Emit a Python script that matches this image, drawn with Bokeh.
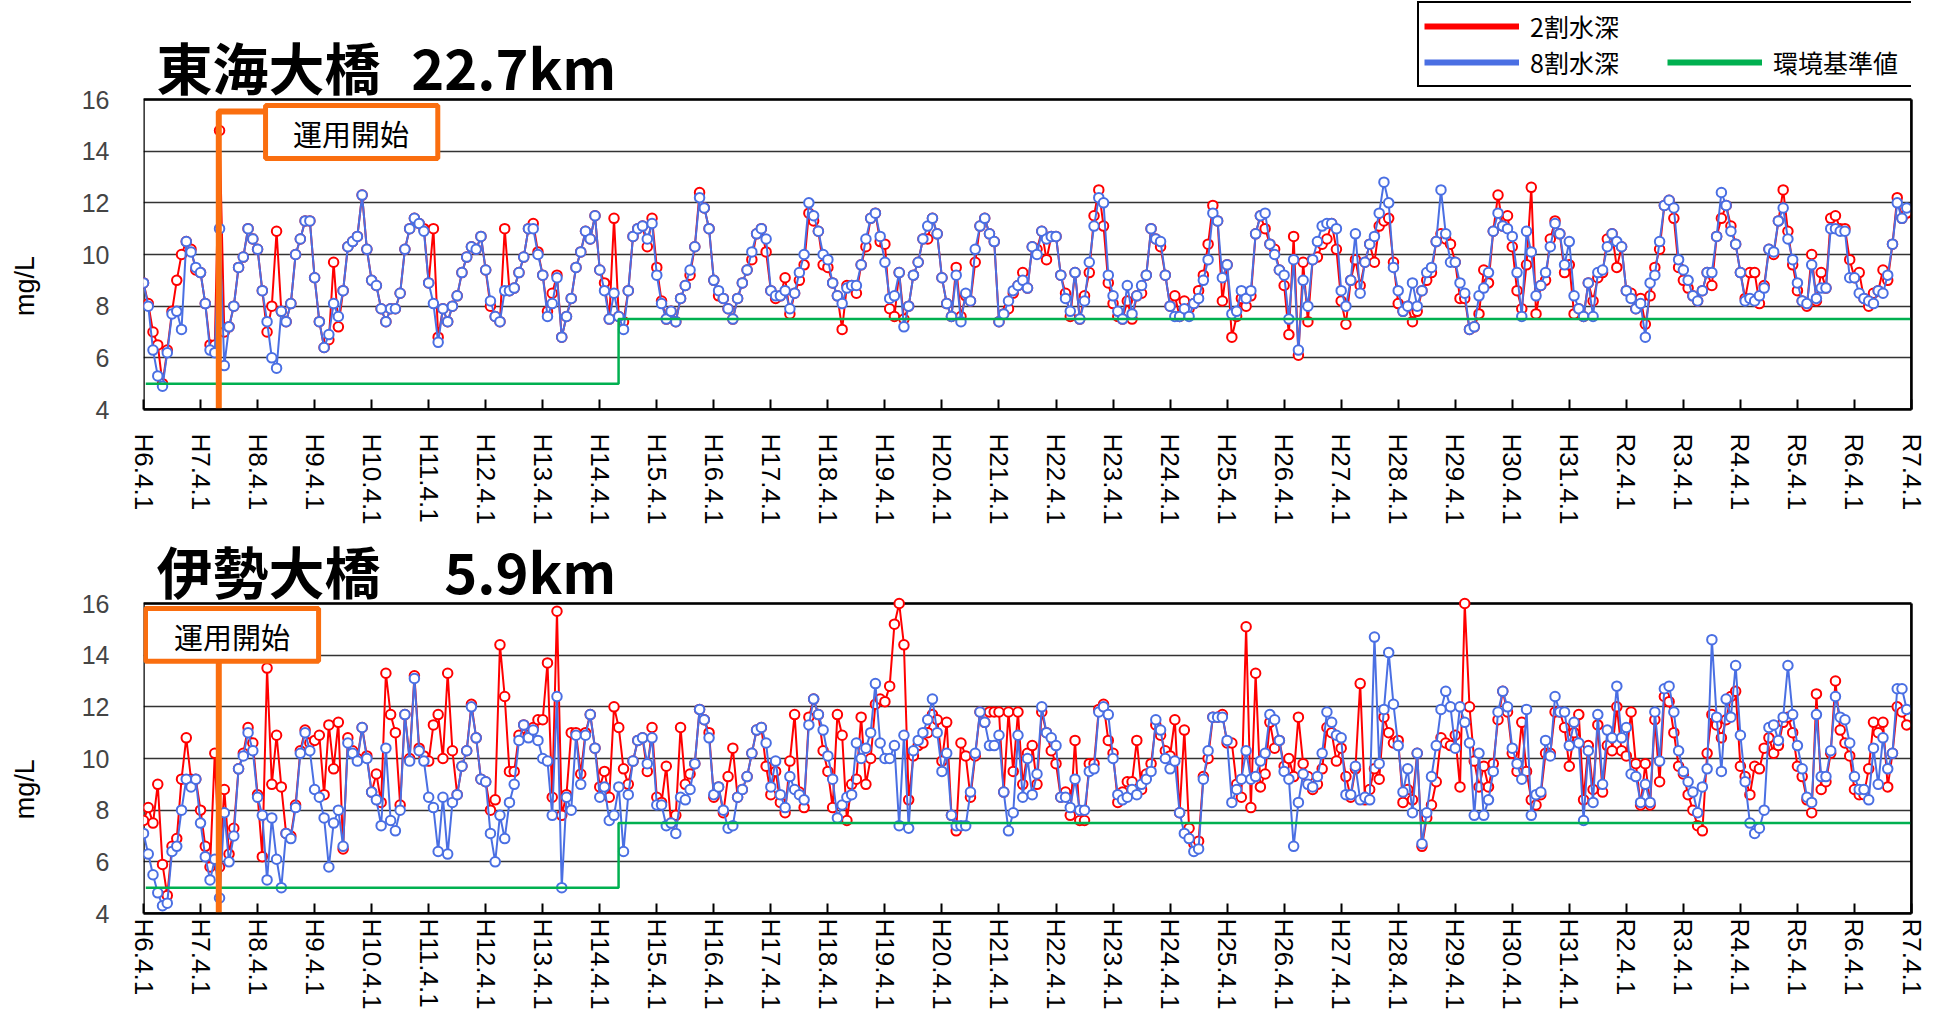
import math
import numpy as np
from bokeh.plotting import figure
from bokeh.models import (Range1d, FixedTicker, Label, Legend, LegendItem,
                          BoxAnnotation, LinearAxis)
from bokeh.layouts import column
from bokeh.embed import file_html
from bokeh.resources import INLINE

# ---------------- data ----------------
TICK_LABELS = ["H6.4.1", "H7.4.1", "H8.4.1", "H9.4.1", "H10.4.1", "H11.4.1",
               "H12.4.1", "H13.4.1", "H14.4.1", "H15.4.1", "H16.4.1", "H17.4.1",
               "H18.4.1", "H19.4.1", "H20.4.1", "H21.4.1", "H22.4.1", "H23.4.1",
               "H24.4.1", "H25.4.1", "H26.4.1", "H27.4.1", "H28.4.1", "H29.4.1",
               "H30.4.1", "H31.4.1", "R2.4.1", "R3.4.1", "R4.4.1", "R5.4.1",
               "R6.4.1", "R7.4.1"]

# monthly DO (mg/L), April..March of each fiscal year H6 .. R6
TOKAI_80 = [
    8.9, 8.0, 6.3, 5.3, 4.9, 6.2, 7.7, 7.8, 7.1, 10.5, 10.1, 9.5,
    9.3, 8.1, 6.3, 6.2, 11.0, 5.7, 7.2, 8.0, 9.5, 9.9, 11.0, 10.6,
    10.2, 8.6, 7.4, 6.0, 5.6, 7.8, 7.4, 8.1, 10.0, 10.6, 11.3, 11.3,
    9.1, 7.4, 6.4, 6.9, 8.1, 7.6, 8.6, 10.3, 10.5, 10.7, 12.3, 10.2,
    9.0, 8.8, 7.9, 7.4, 7.9, 7.9, 8.5, 10.2, 11.0, 11.4, 11.2, 10.9,
    8.9, 8.1, 6.6, 7.9, 7.4, 8.0, 8.4, 9.3, 9.9, 10.3, 10.2, 10.7,
    9.4, 8.2, 7.6, 7.4, 8.6, 8.6, 8.7, 9.3, 9.9, 11.0, 11.0, 10.0,
    9.2, 7.6, 8.1, 9.1, 6.8, 7.6, 8.3, 9.5, 10.1, 10.9, 10.6, 11.5,
    9.4, 8.6, 7.5, 8.5, 7.6, 7.1, 8.6, 10.7, 11.0, 11.1, 10.6, 11.2,
    9.2, 8.1, 7.5, 7.8, 7.4, 8.3, 8.8, 9.4, 10.3, 12.2, 11.8, 11.0,
    9.0, 8.6, 8.3, 7.9, 7.5, 8.3, 8.9, 9.4, 10.1, 10.8, 11.0, 10.6,
    8.6, 8.4, 8.4, 8.6, 7.9, 8.5, 9.3, 10.0, 12.0, 11.5, 10.9, 10.0,
    9.8, 8.9, 8.4, 8.1, 8.7, 8.8, 8.8, 9.6, 10.6, 11.4, 11.6, 10.7,
    9.7, 8.3, 8.4, 9.3, 7.2, 8.0, 9.2, 9.7, 10.6, 11.1, 11.4, 10.8,
    9.1, 8.1, 7.6, 9.2, 7.4, 8.5, 8.2, 10.2, 11.1, 11.4, 10.8, 10.5,
    7.4, 7.7, 8.2, 8.6, 8.8, 9.0, 8.7, 10.3, 10.0, 10.9, 10.6, 10.7,
    10.7, 9.2, 8.3, 7.8, 9.3, 7.5, 8.2, 9.7, 11.1, 12.2, 12.0, 9.2,
    8.4, 7.8, 7.5, 8.8, 7.7, 8.4, 8.8, 9.2, 11.0, 10.6, 10.5, 9.2,
    8.0, 7.6, 7.6, 7.9, 7.6, 8.1, 8.3, 9.0, 9.8, 11.6, 11.3, 9.1,
    9.6, 7.7, 7.8, 8.6, 8.3, 8.6, 10.8, 11.5, 11.6, 10.4, 10.0, 9.4,
    9.2, 7.5, 9.8, 6.3, 9.0, 8.0, 9.8, 10.5, 11.1, 11.2, 11.2, 11.0,
    8.6, 8.0, 9.0, 10.8, 8.5, 9.7, 10.4, 10.7, 11.6, 12.8, 12.0, 9.5,
    8.6, 7.8, 8.0, 8.9, 8.0, 8.6, 9.3, 9.5, 10.5, 12.5, 10.8, 9.7,
    9.7, 8.9, 8.5, 7.1, 7.2, 8.4, 8.7, 9.3, 10.9, 11.6, 11.1, 11.0,
    10.7, 9.3, 7.6, 10.9, 10.1, 8.4, 8.8, 9.3, 10.3, 11.2, 10.8, 9.6,
    10.5, 8.4, 7.9, 7.6, 8.9, 7.6, 9.3, 9.4, 10.3, 10.8, 10.5, 10.3,
    8.6, 8.3, 7.9, 8.1, 6.8, 8.9, 9.2, 10.5, 11.9, 12.1, 11.8, 9.8,
    9.4, 9.0, 8.4, 8.2, 8.6, 9.3, 9.3, 10.7, 12.4, 11.9, 10.9, 10.4,
    9.3, 8.2, 8.3, 8.2, 8.4, 8.7, 10.2, 10.1, 11.3, 11.8, 10.6, 9.8,
    8.9, 8.2, 8.1, 9.6, 8.3, 8.7, 8.7, 11.0, 11.0, 10.9, 10.9, 9.1,
    9.1, 8.5, 8.3, 8.2, 8.1, 8.6, 8.5, 9.2, 10.4, 12.0, 11.4, 11.8,
]

TOKAI_20 = [
    8.9, 8.1, 7.0, 6.5, 5.0, 6.3, 7.8, 9.0, 10.0, 10.5, 10.2, 9.4,
    9.3, 8.1, 6.5, 6.5, 14.8, 7.0, 7.2, 8.0, 9.5, 9.9, 11.0, 10.6,
    10.2, 8.6, 7.0, 8.0, 10.9, 7.8, 7.4, 8.1, 10.0, 10.6, 11.3, 11.3,
    9.1, 7.4, 6.4, 6.7, 9.7, 7.2, 8.6, 10.3, 10.5, 10.7, 12.3, 10.2,
    9.0, 8.8, 7.9, 7.4, 7.9, 7.9, 8.5, 10.2, 11.0, 11.4, 11.2, 11.0,
    8.9, 11.0, 6.8, 7.9, 7.4, 8.0, 8.4, 9.3, 9.9, 10.3, 10.2, 10.7,
    9.4, 8.0, 7.6, 7.4, 11.0, 8.6, 8.7, 9.3, 9.9, 11.0, 11.2, 10.1,
    9.2, 7.8, 8.5, 9.2, 6.8, 7.6, 8.3, 9.5, 10.1, 10.9, 10.6, 11.5,
    9.4, 8.9, 7.5, 11.4, 7.6, 7.4, 8.6, 10.7, 11.0, 11.1, 10.3, 11.4,
    9.5, 8.2, 7.5, 7.8, 7.4, 8.3, 8.8, 9.2, 10.3, 12.4, 11.8, 11.0,
    9.0, 8.4, 8.3, 7.9, 7.5, 8.3, 8.9, 9.4, 9.8, 10.8, 11.0, 10.1,
    8.6, 8.3, 8.4, 9.1, 7.7, 8.5, 9.0, 9.6, 11.6, 11.3, 10.9, 9.6,
    9.5, 8.9, 8.4, 7.1, 8.8, 8.8, 8.5, 9.6, 10.3, 11.4, 11.6, 10.5,
    10.4, 7.9, 7.6, 9.3, 7.5, 8.0, 9.2, 9.7, 10.6, 10.6, 11.4, 10.8,
    9.1, 8.1, 7.6, 9.5, 7.6, 8.4, 8.2, 9.7, 11.1, 11.4, 10.8, 10.5,
    7.4, 7.7, 7.9, 8.5, 8.8, 9.3, 8.7, 10.3, 10.2, 10.9, 9.8, 10.7,
    10.7, 9.2, 8.5, 7.6, 9.3, 7.5, 8.4, 9.3, 11.5, 12.5, 11.1, 8.9,
    8.1, 7.6, 7.5, 8.2, 7.5, 8.4, 8.5, 9.2, 11.0, 10.6, 10.3, 9.2,
    8.0, 8.4, 7.6, 8.2, 7.9, 8.1, 8.6, 9.2, 10.4, 11.9, 11.3, 8.2,
    9.6, 6.8, 7.6, 8.3, 8.0, 8.4, 10.8, 11.5, 11.0, 10.4, 10.2, 9.4,
    8.8, 6.9, 10.7, 6.1, 9.7, 7.4, 9.8, 9.9, 10.4, 10.6, 11.2, 10.2,
    8.2, 7.3, 9.0, 9.8, 8.8, 9.7, 10.4, 9.7, 11.1, 11.3, 11.4, 9.7,
    8.1, 7.8, 8.0, 7.4, 7.8, 8.6, 9.0, 9.3, 10.5, 10.8, 10.6, 10.4,
    9.7, 8.3, 8.3, 7.1, 7.2, 7.7, 9.4, 8.9, 10.9, 12.3, 11.1, 11.5,
    10.3, 8.6, 7.9, 9.6, 12.6, 7.7, 8.8, 9.0, 10.6, 11.3, 10.8, 9.3,
    9.6, 7.7, 7.9, 7.6, 8.9, 8.2, 9.1, 9.3, 10.6, 10.8, 9.5, 10.3,
    8.6, 8.5, 7.9, 8.3, 7.3, 8.4, 9.5, 10.2, 11.9, 12.1, 11.4, 9.5,
    9.0, 8.7, 8.4, 8.2, 8.6, 9.3, 8.8, 10.7, 11.4, 11.9, 11.1, 10.4,
    9.3, 8.3, 9.3, 9.3, 8.1, 8.8, 10.2, 10.0, 11.3, 12.5, 10.9, 9.6,
    8.6, 8.2, 8.0, 10.0, 8.2, 9.3, 8.7, 11.4, 11.5, 11.0, 11.0, 9.8,
    9.1, 9.3, 8.3, 8.0, 8.5, 8.6, 9.4, 9.0, 10.4, 12.2, 11.4, 11.6,
]

ISE_80 = [
    7.1, 6.3, 5.5, 4.8, 4.3, 4.4, 6.4, 6.6, 8.0, 9.2, 8.9, 9.2,
    7.5, 6.2, 5.3, 6.1, 4.6, 7.9, 6.0, 7.0, 9.6, 10.1, 11.0, 10.3,
    8.5, 7.8, 5.3, 7.7, 6.1, 5.0, 7.1, 6.9, 8.1, 10.2, 11.0, 10.3,
    8.8, 8.5, 7.7, 5.8, 7.5, 8.0, 6.6, 10.6, 10.2, 9.9, 11.2, 10.0,
    8.7, 8.4, 7.4, 10.4, 7.6, 7.2, 8.0, 11.7, 9.9, 13.1, 10.3, 9.9,
    8.5, 8.1, 6.4, 8.5, 6.3, 8.3, 8.6, 9.7, 10.3, 12.0, 10.8, 9.2,
    9.1, 7.1, 6.0, 7.8, 6.9, 8.3, 9.0, 10.7, 11.3, 10.8, 11.1, 10.7,
    10.0, 9.9, 7.8, 12.4, 5.0, 8.5, 8.0, 10.9, 9.0, 10.9, 11.7, 10.4,
    8.5, 8.9, 7.6, 7.8, 8.9, 6.4, 8.6, 9.9, 10.7, 10.8, 9.8, 10.8,
    8.2, 8.2, 7.4, 7.5, 7.1, 8.5, 8.4, 8.8, 9.8, 11.9, 11.5, 10.8,
    8.6, 8.9, 8.0, 7.3, 7.4, 8.5, 8.8, 9.3, 10.2, 11.1, 11.2, 10.6,
    8.9, 9.9, 8.6, 8.1, 9.3, 8.8, 8.6, 8.4, 11.3, 12.3, 11.7, 11.1,
    10.1, 9.2, 7.7, 8.2, 8.5, 8.6, 10.6, 10.0, 10.4, 11.0, 12.9, 10.6,
    10.0, 10.0, 10.5, 7.4, 10.9, 7.3, 10.3, 10.7, 11.0, 11.5, 12.3, 11.0,
    9.5, 10.2, 7.8, 7.4, 7.4, 7.4, 8.7, 10.2, 11.8, 11.4, 10.5, 10.5,
    10.9, 8.7, 7.2, 7.9, 10.9, 8.5, 10.0, 8.6, 9.4, 12.0, 11.0, 10.8,
    10.5, 8.5, 8.5, 8.1, 9.2, 8.0, 8.0, 9.5, 9.6, 11.8, 12.0, 11.7,
    10.0, 8.6, 8.4, 8.5, 8.8, 8.6, 9.0, 9.2, 9.5, 11.5, 11.1, 10.0,
    9.6, 9.9, 7.9, 7.1, 6.9, 6.4, 6.5, 9.2, 10.3, 11.6, 11.6, 11.6,
    10.7, 8.3, 8.8, 9.2, 10.3, 9.2, 9.3, 9.9, 10.2, 11.7, 11.5, 10.7,
    9.5, 9.2, 6.6, 8.3, 9.4, 9.0, 8.9, 9.3, 10.2, 11.8, 11.4, 10.9,
    10.8, 8.6, 8.6, 9.7, 8.4, 8.5, 8.4, 14.7, 9.8, 11.9, 14.1, 12.1,
    10.5, 8.7, 9.6, 7.9, 10.2, 6.7, 7.9, 9.3, 10.5, 11.9, 12.6, 12.0,
    10.4, 12.0, 11.4, 10.6, 7.8, 10.2, 7.8, 8.4, 9.5, 11.8, 12.6, 12.0,
    10.4, 9.8, 9.2, 11.9, 7.8, 8.6, 8.7, 10.7, 10.1, 12.4, 11.8, 11.8,
    10.5, 11.4, 10.6, 7.6, 10.3, 8.3, 11.7, 9.0, 11.1, 10.8, 12.8, 10.8,
    11.2, 9.4, 9.3, 8.3, 9.0, 8.3, 11.8, 9.9, 12.7, 12.8, 11.8, 10.3,
    9.5, 9.1, 8.7, 7.9, 8.9, 9.6, 14.6, 11.6, 9.5, 12.3, 11.6, 13.6,
    10.9, 9.1, 7.5, 7.1, 7.3, 8.0, 11.2, 11.3, 10.7, 11.6, 13.6, 11.7,
    10.5, 9.6, 8.5, 8.3, 11.7, 9.3, 9.3, 10.3, 12.4, 11.6, 11.5, 10.6,
    9.3, 8.8, 8.8, 8.4, 10.4, 9.0, 10.8, 9.6, 10.2, 12.7, 12.7, 11.9,
]

ISE_20 = [
    7.6, 8.1, 7.5, 9.0, 5.9, 4.7, 6.6, 6.9, 9.2, 10.8, 9.2, 9.2,
    8.0, 6.6, 5.8, 10.2, 5.8, 8.8, 6.3, 7.3, 9.6, 10.2, 11.2, 10.6,
    8.6, 6.2, 13.5, 9.0, 10.9, 8.9, 7.1, 7.0, 8.2, 10.3, 11.1, 10.6,
    10.7, 10.9, 8.6, 11.3, 9.6, 11.4, 6.5, 10.8, 10.3, 10.0, 11.2, 10.1,
    8.7, 9.4, 8.3, 13.3, 11.7, 11.0, 8.2, 11.7, 10.0, 13.2, 10.4, 10.1,
    9.9, 11.3, 11.7, 10.0, 13.3, 10.3, 8.6, 9.7, 10.3, 12.1, 10.8, 9.2,
    9.1, 8.0, 8.4, 14.4, 12.4, 9.5, 9.5, 10.9, 11.3, 10.9, 11.2, 11.5,
    11.5, 13.7, 8.5, 15.7, 7.8, 8.6, 11.0, 11.0, 9.4, 11.0, 11.7, 10.4,
    8.9, 9.5, 8.5, 12.0, 11.2, 9.6, 9.0, 9.9, 10.7, 10.8, 9.5, 11.2,
    8.5, 8.3, 9.7, 7.5, 7.8, 11.2, 9.0, 9.4, 9.8, 11.9, 11.5, 11.0,
    8.5, 8.9, 7.9, 9.3, 10.4, 8.5, 8.8, 9.3, 10.2, 11.1, 11.2, 9.7,
    8.6, 9.5, 8.3, 7.9, 9.9, 11.7, 8.7, 8.1, 11.6, 12.3, 11.7, 10.3,
    9.5, 8.1, 11.7, 10.9, 7.6, 9.0, 9.2, 11.6, 9.0, 10.0, 12.1, 12.3,
    12.2, 12.8, 15.2, 16.0, 14.4, 8.4, 10.1, 10.5, 10.6, 11.0, 11.7, 11.5,
    9.9, 11.4, 7.8, 7.2, 10.6, 10.1, 8.5, 10.1, 11.8, 11.4, 11.8, 11.8,
    11.8, 8.7, 11.8, 9.5, 11.8, 9.0, 10.2, 10.5, 9.0, 11.8, 11.0, 10.3,
    9.8, 8.5, 8.7, 7.8, 10.7, 7.6, 7.6, 9.8, 9.8, 11.9, 12.1, 10.7,
    10.2, 8.3, 8.7, 9.1, 9.1, 10.7, 8.8, 9.4, 9.8, 11.3, 10.9, 10.3,
    10.1, 11.5, 7.9, 11.1, 7.3, 6.7, 6.8, 9.3, 10.0, 11.6, 11.6, 11.7,
    10.6, 10.6, 9.0, 8.5, 15.1, 8.1, 13.3, 8.9, 9.4, 11.4, 10.4, 10.7,
    9.7, 10.0, 9.3, 11.6, 9.8, 9.3, 8.8, 9.0, 9.6, 11.2, 11.0, 9.9,
    10.4, 9.3, 8.5, 9.6, 12.9, 8.4, 8.8, 9.6, 9.2, 11.6, 11.0, 10.6,
    10.7, 8.3, 8.8, 8.4, 10.2, 6.6, 7.7, 8.2, 9.1, 10.8, 10.6, 10.5,
    10.9, 8.9, 16.0, 12.0, 9.9, 8.9, 9.7, 8.9, 9.8, 11.5, 12.6, 11.8,
    10.2, 9.5, 11.4, 9.5, 8.4, 8.2, 8.6, 10.2, 10.2, 11.8, 11.8, 11.2,
    9.7, 11.0, 11.7, 8.4, 10.5, 8.8, 11.3, 8.7, 10.5, 10.3, 12.0, 10.3,
    10.1, 11.8, 9.8, 8.2, 9.8, 8.2, 11.5, 9.1, 12.4, 12.2, 11.0, 9.7,
    9.4, 8.6, 8.0, 7.4, 7.2, 10.2, 11.7, 11.3, 10.8, 11.5, 12.4, 12.6,
    9.7, 9.3, 8.6, 9.7, 9.6, 10.4, 10.8, 10.2, 10.5, 11.4, 11.6, 11.0,
    9.7, 9.3, 8.4, 7.9, 12.5, 8.8, 9.1, 10.2, 13.0, 11.1, 10.6, 10.1,
    8.8, 8.6, 8.6, 9.6, 11.4, 11.0, 11.4, 8.9, 10.2, 12.0, 11.8, 11.3,
]

# environmental standard (years after H6.4.1) and its values
STD_X = [0.04, 8.33, 31.0]
STD_Y = [5.0, 7.5, 7.5]
OPERATION_START = 1.32   # 運用開始 (H7.7)

for arr in (TOKAI_80, TOKAI_20, ISE_80, ISE_20):
    assert len(arr) == 372, len(arr)

months = np.arange(372) / 12.0

RED = "#FF0000"
BLUE = "#4A6FE3"
GREEN = "#00B050"
ORANGE = "#FA6E0F"
CJK = "Noto Sans CJK JP"
LAT = "Liberation Sans"
PX_PER_UNIT = 310 / 12.0


def make_panel(name, dist, s20, s80, head_px, border_bottom, standoff,
               unit_pad, box, box_text_xy, op_path, legend=False):
    y_top = 16 + head_px / PX_PER_UNIT
    p = figure(frame_width=1768, frame_height=310 + head_px,
               x_range=Range1d(0, 31), y_range=Range1d(4, y_top),
               output_backend="svg", toolbar_location=None,
               min_border_left=143, min_border_right=25,
               min_border_top=0, min_border_bottom=border_bottom)
    p.background_fill_color = "white"
    p.border_fill_color = "white"
    p.outline_line_color = None

    p.xgrid.visible = False
    p.ygrid.grid_line_color = "#333333"
    p.ygrid.grid_line_width = 1.5

    p.yaxis.ticker = FixedTicker(ticks=[4, 6, 8, 10, 12, 14, 16])
    p.yaxis.major_tick_in = 0
    p.yaxis.major_tick_out = 0
    p.yaxis.minor_tick_line_color = None
    p.yaxis.axis_line_color = None
    p.yaxis.major_label_text_font = LAT
    p.yaxis.major_label_text_font_size = "25px"
    p.yaxis.major_label_text_color = "#444444"
    p.yaxis.major_label_standoff = 34
    # unit label; trailing em-spaces move it down to the plot-area centre
    p.yaxis.axis_label = "mg/L" + unit_pad
    p.yaxis.axis_label_text_font = LAT
    p.yaxis.axis_label_text_font_style = "normal"
    p.yaxis.axis_label_text_font_size = "27px"
    p.yaxis.axis_label_text_color = "black"
    p.yaxis.axis_label_standoff = 39

    p.xaxis.ticker = FixedTicker(ticks=list(range(len(TICK_LABELS))))
    p.xaxis.major_label_overrides = {i: t for i, t in enumerate(TICK_LABELS)}
    p.xaxis.major_label_orientation = "vertical"
    p.xaxis.major_tick_in = 10
    p.xaxis.major_tick_out = 0
    p.xaxis.major_tick_line_width = 2
    p.xaxis.major_tick_line_color = "black"
    p.xaxis.minor_tick_line_color = None
    p.xaxis.axis_line_color = "black"
    p.xaxis.axis_line_width = 2.5
    p.xaxis.major_label_text_font = LAT
    p.xaxis.major_label_text_font_size = "26px"
    p.xaxis.major_label_text_color = "black"
    p.xaxis.major_label_standoff = standoff

    # right frame edge
    rax = LinearAxis(ticker=FixedTicker(ticks=[]), bounds=(4, 16),
                     axis_line_color="black", axis_line_width=2.5,
                     major_tick_line_color=None, minor_tick_line_color=None)
    p.add_layout(rax, "right")
    # plot-area frame (4..16)
    p.add_layout(BoxAnnotation(left=0, right=31, bottom=4, top=16,
                               fill_alpha=0.0, line_color="black", line_alpha=1.0,
                               line_width=2.5, level="underlay"))

    # series
    p.line(months, s20, line_color=RED, line_width=2)
    p.scatter(months, s20, marker="circle", size=9.5, fill_color="white",
              line_color=RED, line_width=2)
    p.line(months, s80, line_color=BLUE, line_width=2)
    p.scatter(months, s80, marker="circle", size=9.5, fill_color="white",
              line_color=BLUE, line_width=2)
    p.step(STD_X, STD_Y, mode="after", line_color=GREEN, line_width=2.5)

    # operation start marker
    p.line(op_path[0], op_path[1], line_color=ORANGE, line_width=6)
    p.add_layout(BoxAnnotation(left=box[0], right=box[1], bottom=box[2], top=box[3],
                               fill_color="white", fill_alpha=1.0,
                               line_color=ORANGE, line_alpha=1.0, line_width=5))
    p.add_layout(Label(x=box_text_xy[0], y=box_text_xy[1], text="運用開始",
                       text_font=CJK, text_font_size="29px", text_color="black",
                       text_align="center", text_baseline="middle"))

    # titles
    p.add_layout(Label(x=0.23, y=17.33, text=name, text_font=CJK,
                       text_font_style="bold", text_font_size="56px",
                       text_align="left", text_baseline="middle", text_color="black"))
    p.add_layout(Label(x=8.29, y=17.33, text=dist, text_font=CJK,
                       text_font_style="bold", text_font_size="56px",
                       text_align="right", text_baseline="middle", text_color="black"))

    if legend:
        nan = float("nan")
        r_red = p.line([0], [nan], line_color=RED, line_width=6)
        r_blue = p.line([0], [nan], line_color=BLUE, line_width=6)
        r_none = p.line([0], [nan], line_color="white", line_alpha=0)
        r_green = p.line([0], [nan], line_color=GREEN, line_width=6)
        lg = Legend(items=[LegendItem(label="2割水深", renderers=[r_red]),
                           LegendItem(label="8割水深", renderers=[r_blue]),
                           LegendItem(label=" ", renderers=[r_none]),
                           LegendItem(label="環境基準値", renderers=[r_green])],
                    location=(1274, 322), orientation="vertical", nrows=2)
        lg.border_line_color = "black"
        lg.border_line_width = 2.5
        lg.border_line_alpha = 1.0
        lg.background_fill_color = "white"
        lg.background_fill_alpha = 1.0
        lg.label_text_font = CJK
        lg.label_text_font_size = "25px"
        lg.label_text_color = "black"
        lg.glyph_width = 95
        lg.glyph_height = 28
        lg.label_standoff = 11
        lg.label_width = 137
        lg.spacing = 0
        lg.padding = 5
        lg.margin = 0
        p.add_layout(lg)
    return p


# top panel: canvas y 0..543, plot area 99..409
p1 = make_panel("東海大橋", "22.7km", TOKAI_20, TOKAI_80,
                head_px=99, border_bottom=134, standoff=24,
                unit_pad="\u2003" * 6,
                box=(2.14, 5.16, 13.72, 15.77), box_text_xy=(3.64, 14.72),
                op_path=([OPERATION_START, OPERATION_START, 2.14], [4, 15.54, 15.54]),
                legend=True)
# bottom panel: canvas y 543..1024, plot area 603..913
p2 = make_panel("伊勢大橋", "5.9km", ISE_20, ISE_80,
                head_px=60, border_bottom=0, standoff=5,
                unit_pad="\u2003" * 4 + "\u2002",
                box=(0.035, 3.07, 13.76, 15.81), box_text_xy=(1.55, 14.75),
                op_path=([OPERATION_START, OPERATION_START], [4, 13.76]))

layout = column(p1, p2, spacing=0)
open("out.html", "w").write(file_html(layout, INLINE))
